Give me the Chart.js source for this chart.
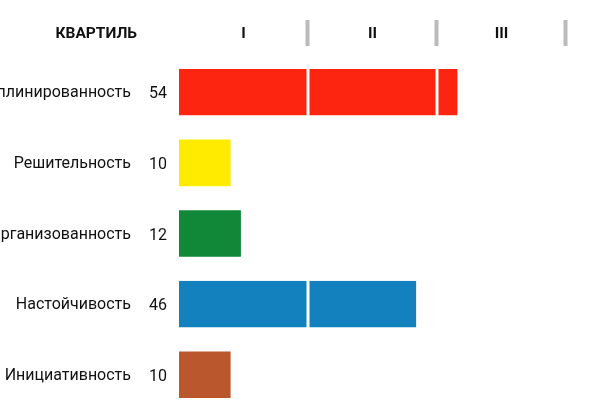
<!DOCTYPE html>
<html>
<head>
<meta charset="utf-8">
<script src="https://cdn.jsdelivr.net/npm/chart.js@4"></script>
<style>
  body { margin: 0; overflow: hidden; background: #fff; }
  canvas { display: block; }
</style>
</head>
<body>
<canvas id="qChart" width="600" height="410"></canvas>
<script>
// Chart data
const categories = ['Дисциплинированность', 'Решительность', 'Организованность', 'Настойчивость', 'Инициативность'];
const scores = [54, 10, 12, 46, 10];
const barColors = ['#fd2410', '#ffeb00', '#118837', '#1281bd', '#bb572d'];
const quartileLabels = ['I', 'II', 'III'];
const quartileSize = 25;

const FONT = 'Roboto, "Noto Sans", sans-serif';

// Split each score into quartile pieces so the gaps fall on 25 / 50
const datasets = quartileLabels.map((q, qi) => ({
  label: q,
  data: scores.map(v => Math.min(Math.max(v - qi * quartileSize, 0), quartileSize)),
  backgroundColor: barColors,
  borderColor: '#ffffff',
  borderSkipped: false,
  borderWidth: ctx => {
    const v = scores[ctx.dataIndex];
    return {
      left: qi > 0 ? 1.5 : 0,
      right: v > (qi + 1) * quartileSize ? 1.5 : 0,
      top: 0,
      bottom: 0
    };
  },
  barPercentage: 0.66,
  categoryPercentage: 1
}));

// Header row and score numbers
const headerPlugin = {
  id: 'header',
  afterDraw(chart) {
    const ctx = chart.ctx;
    const x = chart.scales.x;
    const y = chart.scales.y;
    ctx.save();
    ctx.textBaseline = 'middle';

    ctx.fillStyle = '#111';
    ctx.font = 'bold 15.5px ' + FONT;
    ctx.textAlign = 'right';
    ctx.fillText('КВАРТИЛЬ', 137, 34);

    ctx.textAlign = 'center';
    quartileLabels.forEach((q, i) => {
      ctx.fillText(q, x.getPixelForValue(i * quartileSize + quartileSize / 2), 34);
      ctx.fillStyle = '#bbbbbb';
      ctx.fillRect(x.getPixelForValue((i + 1) * quartileSize) - 2.5, 20, 4, 26);
      ctx.fillStyle = '#111';
    });

    ctx.font = '16px ' + FONT;
    ctx.textAlign = 'right';
    scores.forEach((v, i) => {
      ctx.fillText(String(v), 167, y.getPixelForValue(i) + 2);
    });
    ctx.restore();
  }
};

new Chart(document.getElementById('qChart'), {
  type: 'bar',
  data: { labels: categories, datasets: datasets },
  options: {
    indexAxis: 'y',
    responsive: false,
    animation: false,
    layout: { padding: { top: 57, right: 34, bottom: 0, left: 0 } },
    plugins: {
      legend: { display: false },
      tooltip: { enabled: false }
    },
    scales: {
      x: {
        stacked: true,
        display: false,
        min: 0,
        max: quartileSize * quartileLabels.length
      },
      y: {
        stacked: true,
        grid: { display: false, drawTicks: false },
        border: { display: false },
        ticks: {
          padding: 48,
          labelOffset: 1,
          color: '#111',
          font: { family: FONT, size: 16 }
        },
        afterFit(scale) {
          scale.width = 179;
          // tick padding should not push the plot area in vertically
          scale.paddingTop = 0;
          scale.paddingBottom = 0;
        }
      }
    }
  },
  plugins: [headerPlugin]
});
</script>
</body>
</html>
